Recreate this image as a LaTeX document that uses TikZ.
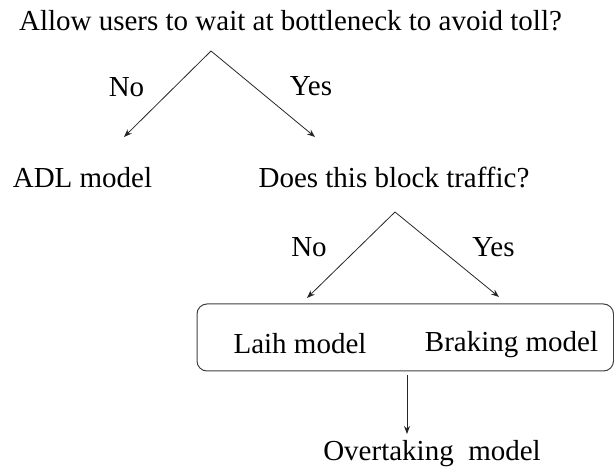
\documentclass[tikz,border=0pt]{standalone}
\usepackage{fontspec}
\setmainfont{Liberation Serif}
\usetikzlibrary{arrows.meta}
\begin{document}
\begin{tikzpicture}[x=1pt,y=-1pt,
  lbl/.style={font=\fontsize{29}{33}\selectfont, inner sep=0pt, anchor=base},
  arr/.style={-{Stealth[length=8pt,width=6pt]}, line width=0.8pt, black!85},
  box/.style={draw, line width=1pt, rounded corners=10pt, black!75}]
\useasboundingbox (0,0) rectangle (614,470);
\node[lbl] (q1) at (290.5,31) {Allow users to wait at bottleneck to avoid toll?};
\coordinate (a1) at (211,51);
\coordinate (l1) at (124,137);
\coordinate (r1) at (315,137);
\draw[arr] (a1) -- (l1);
\draw[arr] (a1) -- (r1);
\node[lbl] (no1) at (126.5,97) {No};
\node[lbl] (yes1) at (311,96) {Yes};
\node[lbl] (adl) at (82.5,188) {ADL model};
\node[lbl] (q2) at (394,188) {Does this block traffic?};
\coordinate (a2) at (395,212);
\coordinate (l2) at (307,298);
\coordinate (r2) at (499,297);
\draw[arr] (a2) -- (l2);
\draw[arr] (a2) -- (r2);
\node[lbl] (no2) at (309,257) {No};
\node[lbl] (yes2) at (493.5,257) {Yes};
\draw[box] (197,304) rectangle (613.5,371);
\node[lbl] (laih) at (300,354) {Laih model};
\node[lbl] (brake) at (511.5,352) {Braking model};
\coordinate (b1) at (407,375);
\coordinate (b2) at (407,434);
\draw[arr] (b1) -- (b2);
\node[lbl] (over) at (432,461) {Overtaking\ \ model};
\end{tikzpicture}
\end{document}
